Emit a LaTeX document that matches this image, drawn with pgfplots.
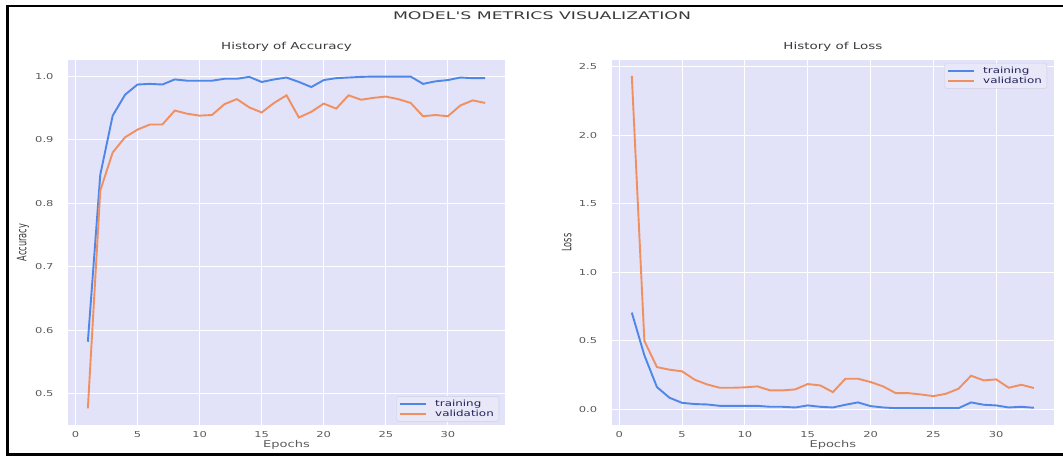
\documentclass[border=0pt]{standalone}
\usepackage{fontspec}
\setmainfont[FakeStretch=1.4]{DejaVu Sans}
\newfontfamily\supfont[FakeStretch=1.65,Ligatures=TeXOff]{DejaVu Sans}
\newfontfamily\rotfont[FakeStretch=0.63]{DejaVu Sans}
\usepackage{pgfplots}
\usepackage{pgfplotstable}
\pgfplotsset{compat=1.18}
\definecolor{bg}{HTML}{E2E2F8}
\definecolor{trc}{HTML}{4F87E8}
\definecolor{vac}{HTML}{F09060}
\definecolor{txt}{HTML}{5A5A5A}
\definecolor{ttl}{HTML}{3A3A3A}
\definecolor{legfill}{HTML}{E8E8F8}
\definecolor{legdraw}{HTML}{CFCFE0}
\definecolor{legtxt}{HTML}{22225A}

\pgfplotstableread{
epoch train val
1 0.582 0.477
2 0.845 0.820
3 0.938 0.880
4 0.971 0.904
5 0.987 0.916
6 0.988 0.924
7 0.987 0.924
8 0.995 0.946
9 0.993 0.941
10 0.993 0.938
11 0.993 0.939
12 0.996 0.956
13 0.996 0.964
14 0.999 0.951
15 0.991 0.943
16 0.995 0.958
17 0.998 0.970
18 0.991 0.935
19 0.983 0.944
20 0.994 0.957
21 0.997 0.949
22 0.998 0.970
23 0.999 0.963
24 0.9995 0.966
25 0.9995 0.968
26 0.9995 0.964
27 0.9995 0.958
28 0.988 0.937
29 0.992 0.939
30 0.994 0.937
31 0.998 0.954
32 0.997 0.962
33 0.997 0.958
}\acctable

\pgfplotstableread{
epoch train val
1 0.705 2.434
2 0.393 0.498
3 0.161 0.307
4 0.083 0.288
5 0.046 0.276
6 0.037 0.215
7 0.034 0.180
8 0.024 0.156
9 0.024 0.156
10 0.024 0.159
11 0.024 0.166
12 0.017 0.137
13 0.017 0.137
14 0.012 0.144
15 0.027 0.183
16 0.017 0.173
17 0.012 0.124
18 0.032 0.222
19 0.049 0.222
20 0.022 0.198
21 0.012 0.166
22 0.007 0.117
23 0.007 0.117
24 0.007 0.107
25 0.007 0.095
26 0.007 0.112
27 0.007 0.149
28 0.049 0.244
29 0.032 0.210
30 0.027 0.217
31 0.012 0.156
32 0.017 0.178
33 0.010 0.154
}\losstable

\pgfplotsset{
  mystyle/.style={
    scale only axis,
    height=365pt,
    axis background/.style={fill=bg},
    axis line style={draw=none},
    grid=major,
    major grid style={white, line width=1.1pt},
    major tick length=0pt,
    /pgf/number format/assume math mode=true,
    tick label style={font=\fontsize{8.2}{9}\selectfont, text=txt},
    yticklabel style={xshift=-11pt, /pgf/number format/fixed, /pgf/number format/fixed zerofill, /pgf/number format/precision=1},
    xticklabel style={yshift=-3pt},
    xtick={0,5,...,30},
    xmin=-0.6, xmax=34.6,
    xlabel={Epochs},
    xlabel style={at={(axis description cs:0.5,-0.0548)}, anchor=center, font=\fontsize{9.3}{10}\selectfont, text=txt},
    title style={at={(axis description cs:0.5,1.0205)}, anchor=center, font=\fontsize{9.6}{10}\selectfont, text=ttl},
    ylabel style={anchor=center, font=\rotfont\fontsize{13}{14}\selectfont, text=ttl},
    legend cell align=left,
    legend image code/.code={\draw[#1, line width=1.5pt] (0pt,0pt) -- (26pt,0pt);},
    legend style={fill=legfill, draw=legdraw, rounded corners=2pt, font=\fontsize{8.5}{9}\selectfont, text=legtxt, inner xsep=3pt, inner ysep=1.5pt, row sep=-2pt, /tikz/every odd column/.append style={column sep=6pt}},
  }
}

\begin{document}
\begin{tikzpicture}
\useasboundingbox (0pt,0pt) rectangle (1063pt,456pt);
\draw[line width=2.5pt, black] (1070pt,450pt) -- (7.5pt,450pt) -- (7.5pt,1.5pt) -- (1070pt,1.5pt);
\node[font=\supfont\fontsize{10.5}{12}\selectfont, text=ttl] at (542pt,440.5pt) {MODEL'S METRICS VISUALIZATION};

\begin{axis}[mystyle,
  at={(68pt,31pt)}, anchor=south west,
  width=437pt,
  ymin=0.4509, ymax=1.0256,
  ytick={0.5,0.6,0.7,0.8,0.9,1.0},
  title={History of Accuracy},
  ylabel={Accuracy},
  ylabel style={at={(axis description cs:-0.103,0.5)}},
  legend style={at={(axis description cs:1,0)}, anchor=south east, xshift=-6pt, yshift=3.5pt},
]
\addplot[trc, line width=1.9pt] table[x=epoch, y=train] {\acctable};
\addlegendentry{training}
\addplot[vac, line width=1.9pt] table[x=epoch, y=val] {\acctable};
\addlegendentry{validation}
\end{axis}

\begin{axis}[mystyle,
  at={(611.7pt,31pt)}, anchor=south west,
  width=442.3pt,
  ymin=-0.116, ymax=2.55,
  ytick={0,0.5,1.0,1.5,2.0,2.5},
  title={History of Loss},
  ylabel={Loss},
  ylabel style={at={(axis description cs:-0.1017,0.5)}},
  legend style={at={(axis description cs:1,1)}, anchor=north east, xshift=-7pt, yshift=-3.3pt},
]
\addplot[trc, line width=1.9pt] table[x=epoch, y=train] {\losstable};
\addlegendentry{training}
\addplot[vac, line width=1.9pt] table[x=epoch, y=val] {\losstable};
\addlegendentry{validation}
\end{axis}
\end{tikzpicture}
\end{document}
